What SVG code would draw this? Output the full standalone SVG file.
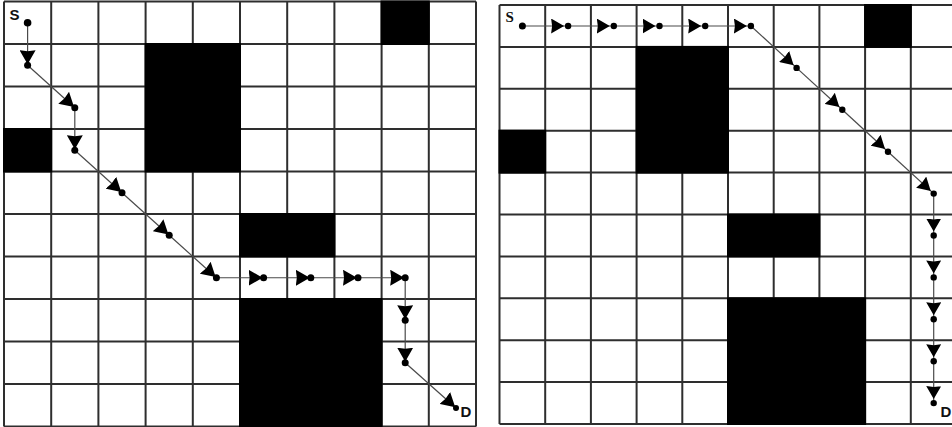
<svg xmlns="http://www.w3.org/2000/svg" width="952" height="427" viewBox="0 0 952 427">
<style>
.grid{fill:none;stroke:#2e2e2e;stroke-width:2}
.blk{fill:#000}
.seg{stroke:#4a4a4a;stroke-width:1.2;fill:none}
.segL{marker-end:url(#ahL)}
.segR{marker-end:url(#ahR)}
.dotL{fill:#000}
.lbl{font-family:"Liberation Sans",Arial,sans-serif;font-weight:bold;font-size:15px;fill:#111}
.lblS{font-family:"Liberation Serif","Times New Roman",serif;font-weight:bold;font-size:15px;fill:#111}
</style>
<defs>
<marker id="ahL" markerUnits="userSpaceOnUse" markerWidth="15" markerHeight="16" refX="15" refY="8" orient="auto"><path d="M0,0 L14,8 L0,16 L1,8 Z" fill="#000"/></marker>
<marker id="ahR" markerUnits="userSpaceOnUse" markerWidth="14" markerHeight="15" refX="17" refY="7.5" orient="auto"><path d="M0,0 L13,7.5 L0,15 L1,7.5 Z" fill="#000"/></marker>
</defs>
<rect width="952" height="427" fill="#fff"/>
<g id="left-panel">
<path id="left-grid" class="grid" d="M4,1.5V426.5M51.2,1.5V426.5M98.4,1.5V426.5M145.6,1.5V426.5M192.8,1.5V426.5M240,1.5V426.5M287.2,1.5V426.5M334.4,1.5V426.5M381.6,1.5V426.5M428.8,1.5V426.5M476,1.5V426.5M4,1.5H476M4,44H476M4,86.5H476M4,129H476M4,171.5H476M4,214H476M4,256.5H476M4,299H476M4,341.5H476M4,384H476M4,426.5H476"/>
<g id="left-obstacles">
<rect class="blk" x="380.6" y="0.5" width="49.2" height="44.5"/>
<rect class="blk" x="144.6" y="43" width="96.4" height="129.5"/>
<rect class="blk" x="3" y="128" width="49.2" height="44.5"/>
<rect class="blk" x="239" y="213" width="96.4" height="44.5"/>
<rect class="blk" x="239" y="298" width="143.6" height="129"/>
</g>
<g id="left-connectors">
<line class="seg segL" x1="27.6" y1="22.75" x2="27.6" y2="65.25"/>
<line class="seg segL" x1="27.6" y1="65.25" x2="74.8" y2="107.75"/>
<line class="seg segL" x1="74.8" y1="107.75" x2="74.8" y2="150.25"/>
<line class="seg segL" x1="74.8" y1="150.25" x2="122" y2="192.75"/>
<line class="seg segL" x1="122" y1="192.75" x2="169.2" y2="235.25"/>
<line class="seg segL" x1="169.2" y1="235.25" x2="216.4" y2="277.75"/>
<line class="seg segL" x1="216.4" y1="277.75" x2="263.6" y2="277.75"/>
<line class="seg segL" x1="263.6" y1="277.75" x2="310.8" y2="277.75"/>
<line class="seg segL" x1="310.8" y1="277.75" x2="358" y2="277.75"/>
<line class="seg segL" x1="358" y1="277.75" x2="405.2" y2="277.75"/>
<line class="seg segL" x1="405.2" y1="277.75" x2="405.2" y2="320.25"/>
<line class="seg segL" x1="405.2" y1="320.25" x2="405.2" y2="362.75"/>
<line class="seg segL" x1="405.2" y1="362.75" x2="456" y2="408"/>
</g>
<g id="left-nodes">
<circle class="dotL" cx="27.6" cy="22.75" r="3.8"/>
<circle class="dotL" cx="27.6" cy="65.25" r="3.5"/>
<circle class="dotL" cx="74.8" cy="107.75" r="3.5"/>
<circle class="dotL" cx="74.8" cy="150.25" r="3.5"/>
<circle class="dotL" cx="122" cy="192.75" r="3.5"/>
<circle class="dotL" cx="169.2" cy="235.25" r="3.5"/>
<circle class="dotL" cx="216.4" cy="277.75" r="3.5"/>
<circle class="dotL" cx="263.6" cy="277.75" r="3.5"/>
<circle class="dotL" cx="310.8" cy="277.75" r="3.5"/>
<circle class="dotL" cx="358" cy="277.75" r="3.5"/>
<circle class="dotL" cx="405.2" cy="277.75" r="3.5"/>
<circle class="dotL" cx="405.2" cy="320.25" r="3.5"/>
<circle class="dotL" cx="405.2" cy="362.75" r="3.5"/>
<circle class="dotL" cx="456" cy="408" r="3"/>
</g>
<text class="lbl" x="9.5" y="20">S</text>
<text class="lbl" x="460.5" y="417">D</text>
</g>
<g id="right-panel">
<path id="right-grid" class="grid" d="M499.5,5V424M545.2,5V424M590.9,5V424M636.6,5V424M682.3,5V424M728,5V424M773.7,5V424M819.4,5V424M865.1,5V424M910.8,5V424M499.5,5H960M499.5,46.9H960M499.5,88.8H960M499.5,130.7H960M499.5,172.6H960M499.5,214.5H960M499.5,256.4H960M499.5,298.3H960M499.5,340.2H960M499.5,382.1H960M499.5,424H960"/>
<g id="right-obstacles">
<rect class="blk" x="864.1" y="4" width="47.7" height="43.9"/>
<rect class="blk" x="635.6" y="45.9" width="93.4" height="127.7"/>
<rect class="blk" x="498.5" y="129.7" width="47.7" height="43.9"/>
<rect class="blk" x="727" y="213.5" width="93.4" height="43.9"/>
<rect class="blk" x="727" y="297.3" width="139.1" height="127.7"/>
</g>
<g id="right-connectors">
<line class="seg segR" x1="522.4" y1="26" x2="568.1" y2="26"/>
<line class="seg segR" x1="568.1" y1="26" x2="613.8" y2="26"/>
<line class="seg segR" x1="613.8" y1="26" x2="659.5" y2="26"/>
<line class="seg segR" x1="659.5" y1="26" x2="705.2" y2="26"/>
<line class="seg segR" x1="705.2" y1="26" x2="750.9" y2="26"/>
<line class="seg segR" x1="750.9" y1="26" x2="796.6" y2="67.9"/>
<line class="seg segR" x1="796.6" y1="67.9" x2="842.3" y2="109.8"/>
<line class="seg segR" x1="842.3" y1="109.8" x2="888" y2="151.7"/>
<line class="seg segR" x1="888" y1="151.7" x2="933.7" y2="193.6"/>
<line class="seg segR" x1="933.7" y1="193.6" x2="933.7" y2="235.5"/>
<line class="seg segR" x1="933.7" y1="235.5" x2="933.7" y2="277.4"/>
<line class="seg segR" x1="933.7" y1="277.4" x2="933.7" y2="319.3"/>
<line class="seg segR" x1="933.7" y1="319.3" x2="933.7" y2="361.2"/>
<line class="seg segR" x1="933.7" y1="361.2" x2="933.7" y2="403.1"/>
</g>
<g id="right-nodes">
<circle class="dotL" cx="522.4" cy="26" r="3.5"/>
<circle class="dotL" cx="568.1" cy="26" r="3.2"/>
<circle class="dotL" cx="613.8" cy="26" r="3.2"/>
<circle class="dotL" cx="659.5" cy="26" r="3.2"/>
<circle class="dotL" cx="705.2" cy="26" r="3.2"/>
<circle class="dotL" cx="750.9" cy="26" r="3.2"/>
<circle class="dotL" cx="796.6" cy="67.9" r="3.2"/>
<circle class="dotL" cx="842.3" cy="109.8" r="3.2"/>
<circle class="dotL" cx="888" cy="151.7" r="3.2"/>
<circle class="dotL" cx="933.7" cy="193.6" r="3.2"/>
<circle class="dotL" cx="933.7" cy="235.5" r="3.2"/>
<circle class="dotL" cx="933.7" cy="277.4" r="3.2"/>
<circle class="dotL" cx="933.7" cy="319.3" r="3.2"/>
<circle class="dotL" cx="933.7" cy="361.2" r="3.2"/>
<circle class="dotL" cx="933.7" cy="403.1" r="3.2"/>
</g>
<text class="lblS" x="505.5" y="22">S</text>
<text class="lbl" x="940.5" y="417" font-size="13">D</text>
</g>
</svg>
